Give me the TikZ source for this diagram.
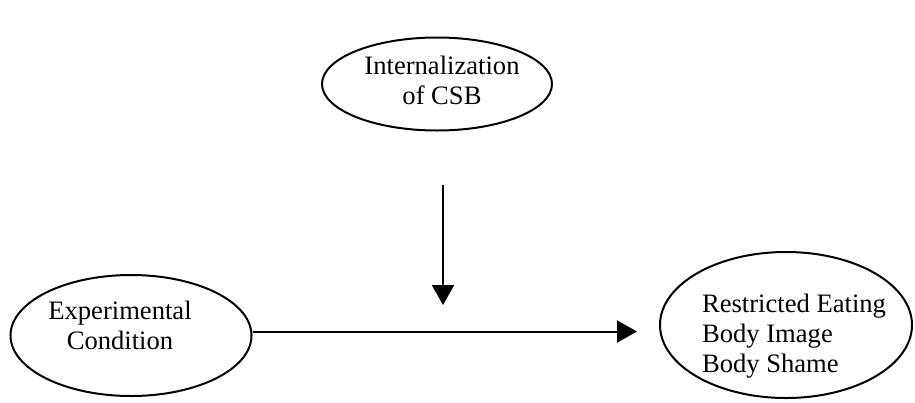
\documentclass[tikz,border=0pt]{standalone}
\usepackage{fontspec}
\setmainfont{Liberation Serif}
\usetikzlibrary{shapes.geometric,arrows.meta}

\tikzset{
  oval/.style={draw, ellipse, line width=1pt, inner sep=0pt},
  caption/.style={inner sep=0pt, font=\fontsize{13.3pt}{15pt}\selectfont},
  link/.style={line width=1pt, -{Triangle[length=10pt,width=11pt]}}
}

\begin{document}
\begin{tikzpicture}[x=0.5pt,y=-0.5pt]
  \useasboundingbox (0,0) rectangle (915,402);

  % moderator
  \node[oval, minimum width=115pt, minimum height=46.5pt] (mod) at (437,84) {};
  \node[caption, align=center] (modtext) at (442,80) {Internalization\\of CSB};

  % predictor
  \node[oval, minimum width=120.5pt, minimum height=60.5pt] (cond) at (131,335.5) {};
  \node[caption, align=center] (condtext) at (120,325) {Experimental\\Condition};

  % outcomes
  \node[oval, minimum width=126pt, minimum height=73pt] (outc) at (786,325) {};
  \node[caption, align=left] (outctext) at (794,336) {Restricted Eating\\Body Image\\Body Shame};

  % paths
  \coordinate (modstart) at (443,185);
  \coordinate (modtip) at (443,305);
  \coordinate (condout) at ([yshift=2pt]cond.east);
  \draw[link, shorten >=11pt] (condout) -- (condout -| outc.west);
  \draw[link] (modstart) -- (modtip);
\end{tikzpicture}
\end{document}
